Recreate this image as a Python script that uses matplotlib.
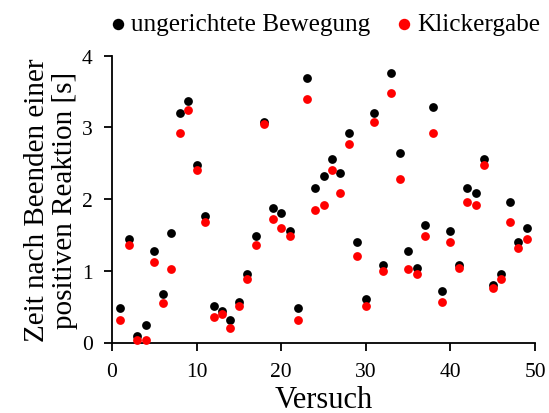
import matplotlib
matplotlib.use("Agg")
import matplotlib.pyplot as plt

plt.rcParams['font.family'] = ['Liberation Serif', 'DejaVu Serif']

versuch = list(range(1, 50))

bewegung = [0.48, 1.44, 0.09, 0.24, 1.28, 0.68, 1.52, 3.20, 3.36, 2.48,
            1.76, 0.51, 0.44, 0.32, 0.56, 0.96, 1.48, 3.08, 1.88, 1.80,
            1.56, 0.48, 3.68, 2.16, 2.32, 2.56, 2.36, 2.92, 1.40, 0.60,
            3.20, 1.08, 3.76, 2.64, 1.28, 1.04, 1.64, 3.28, 0.72, 1.56,
            1.08, 2.16, 2.08, 2.56, 0.80, 0.96, 1.96, 1.40, 1.60]

klicker = [0.32, 1.36, 0.035, 0.03, 1.12, 0.55, 1.03, 2.92, 3.24, 2.40,
           1.68, 0.36, 0.40, 0.20, 0.51, 0.88, 1.36, 3.04, 1.72, 1.60,
           1.48, 0.32, 3.40, 1.84, 1.92, 2.40, 2.08, 2.76, 1.20, 0.51,
           3.08, 1.00, 3.48, 2.28, 1.03, 0.96, 1.48, 2.92, 0.56, 1.40,
           1.04, 1.96, 1.92, 2.48, 0.76, 0.88, 1.68, 1.32, 1.44]

fig = plt.figure(figsize=(5.49, 4.14), dpi=100)
ax = fig.add_axes([112 / 549, (414 - 343.5) / 414, (535 - 112) / 549, (343.5 - 56.5) / 414])

ax.scatter(versuch, bewegung, s=40, color='black', linewidths=0, label='ungerichtete Bewegung', clip_on=False, zorder=3)
ax.scatter(versuch, klicker, s=40, color='#ff0000', linewidths=0, label='Klickergabe', clip_on=False, zorder=4)

ax.set_xlim(0, 50)
ax.set_ylim(0, 4)
ax.set_xticks(range(0, 51, 10))
ax.set_yticks(range(0, 5))
ax.spines['top'].set_visible(False)
ax.spines['right'].set_visible(False)
ax.spines['left'].set_linewidth(1.3)
ax.spines['bottom'].set_linewidth(1.3)
ax.tick_params(direction='out', length=6, width=1.3, labelsize=15.5, pad=8)

ax.set_xlabel('Versuch', fontsize=22, labelpad=3)
ax.set_ylabel('Zeit nach Beenden einer\npositiven Reaktion [s]', fontsize=21, labelpad=3, linespacing=1.1)

fig.legend(loc='center left', bbox_to_anchor=(112 / 549, 1 - 25 / 414), ncol=2, frameon=False,
           fontsize=18.2, markerscale=1.3, handlelength=0.5, handletextpad=0.25,
           columnspacing=1.1, borderaxespad=0, borderpad=0)

fig.savefig('out.png', dpi=100)
